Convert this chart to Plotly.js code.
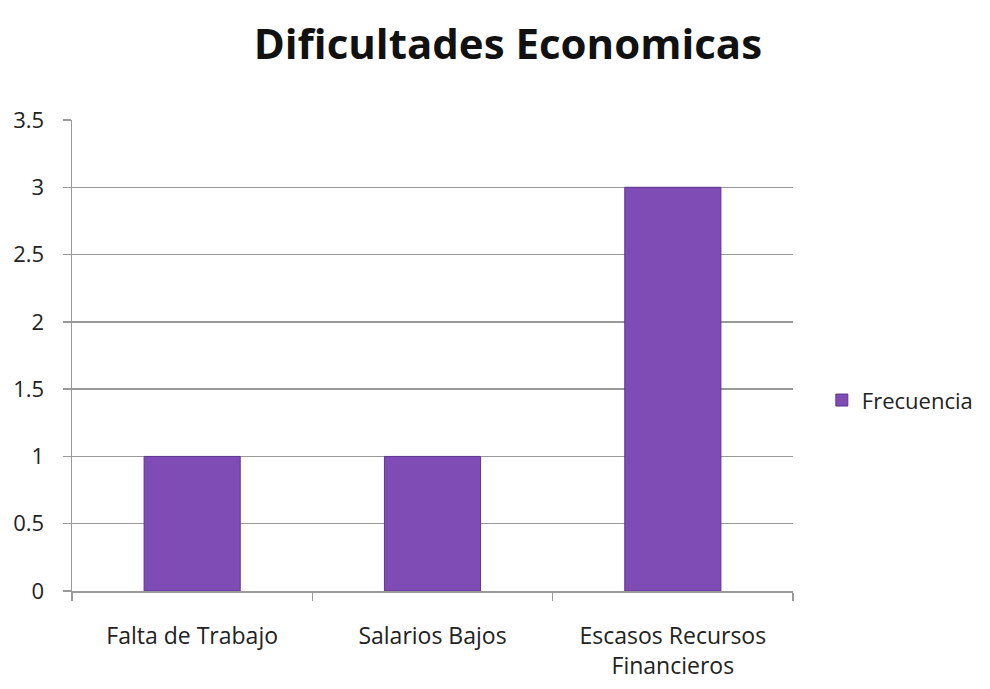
<!DOCTYPE html>
<html>
<head>
<meta charset="utf-8">
<script src="https://cdn.plot.ly/plotly-3.0.1.min.js"></script>
<style>html,body{margin:0;padding:0;background:#fff;}#chart{width:990px;height:689px;}</style>
</head>
<body>
<div id="chart"></div>
<script>
const categories = ["Falta de Trabajo", "Salarios Bajos", "Escasos Recursos<br>Financieros"];
const frecuencia = [1, 1, 3];
const seriesName = "Frecuencia";
const chartTitle = "Dificultades Economicas";

const fontFam = "Open Sans, sans-serif";

const data = [{
  type: "bar",
  x: categories,
  y: frecuencia,
  name: seriesName,
  width: 0.4,
  marker: {color: "#7f4cb5", line: {color: "#5e3590", width: 1}},
  showlegend: true
}];

const layout = {
  width: 990, height: 689,
  margin: {l: 72, r: 197, t: 120, b: 98, autoexpand: false},
  paper_bgcolor: "#fff", plot_bgcolor: "#fff",
  font: {family: fontFam, color: "#222", size: 20},
  title: {text: "<b>" + chartTitle + "</b>", x: 0.513, xanchor: "center", y: 0.935, yanchor: "middle",
          font: {family: fontFam, size: 42, color: "#111"}},
  xaxis: {
    showline: true, linecolor: "#999", linewidth: 1.5,
    ticks: "outside", ticklen: 8, tickcolor: "#999", tickwidth: 1.5,
    tickson: "boundaries", showgrid: false,
    tickfont: {size: 23}, ticklabelstandoff: 24
  },
  yaxis: {
    range: [0, 3.5], dtick: 0.5, tick0: 0,
    showline: true, linecolor: "#999", linewidth: 1.5,
    ticks: "outside", ticklen: 8, tickcolor: "#999", tickwidth: 1.5,
    showgrid: true, gridcolor: "#999", gridwidth: 1.5,
    zeroline: false, tickfont: {size: 22}, ticklabelstandoff: 14
  },
  legend: {x: 1.04, xanchor: "left", y: 0.405, yanchor: "middle", font: {size: 22}, itemwidth: 30},
  bargap: 0.6
};

Plotly.newPlot("chart", data, layout, {displayModeBar: false, staticPlot: true});
</script>
</body>
</html>
